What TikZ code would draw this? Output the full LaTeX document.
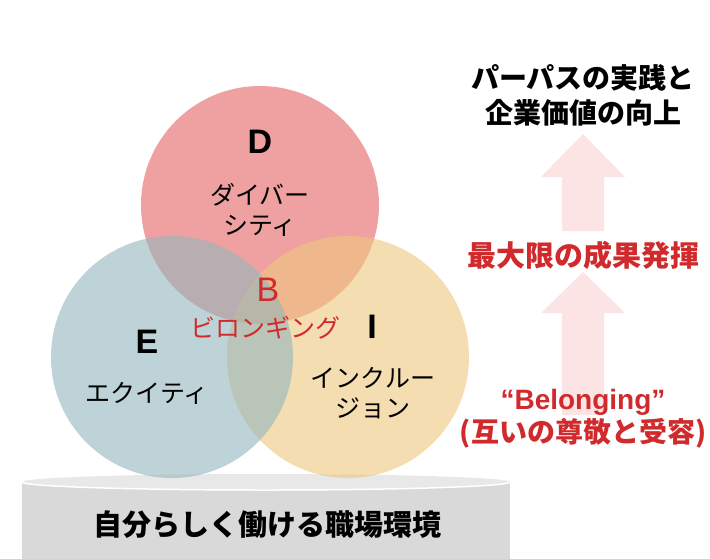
\documentclass[tikz,border=0pt]{standalone}
\usepackage{fontspec}
\setmainfont{Liberation Sans}
\newfontfamily\jp{Noto Sans CJK JP}
\definecolor{dcol}{HTML}{E46262}
\definecolor{ecol}{HTML}{93B6BC}
\definecolor{icol}{HTML}{EEC67F}
\definecolor{txtred}{HTML}{D12A2C}
\definecolor{arrpink}{HTML}{FCE3E4}
\definecolor{platbody}{HTML}{D9D9D9}
\definecolor{plattop}{HTML}{E8E8E8}
\tikzset{
  circfill/.style={fill=#1, fill opacity=0.6},
  letterlbl/.style={font=\fontsize{34}{34}\selectfont\bfseries, inner sep=0pt},
  katalbl/.style={font=\jp\fontsize{25}{30}\selectfont, align=center, inner sep=0pt},
  titlelbl/.style={font=\jp\bfseries\fontsize{28}{35}\selectfont, align=center, inner sep=0pt},
  upshape/.style={fill=arrpink}
}
\begin{document}
\begin{tikzpicture}[x=1pt,y=-1pt]
\useasboundingbox (0,0) rectangle (710,558);
% platform
\fill[platbody] (22,482) rectangle (510,575);
\fill[plattop] (266,482) ellipse [x radius=244, y radius=8];
\draw[white, line width=1.5pt] (22,482) arc[start angle=180, end angle=0, x radius=244, y radius=8];
\node[font=\jp\bfseries\fontsize{29}{29}\selectfont, inner sep=0pt] (base) at (267,525) {自分らしく働ける職場環境};
% circles
\fill[circfill=dcol] (260,205) circle[radius=119];
\fill[circfill=icol] (348,357) circle[radius=121];
\fill[circfill=ecol] (172,357) circle[radius=121];
% circle labels
\node[letterlbl] (d) at (260,142) {D};
\node[katalbl] (dtxt) at (260,210) {ダイバー\\シティ};
\node[letterlbl, font=\fontsize{34}{34}\selectfont, text=txtred] (b) at (268,290) {B};
\node[katalbl, text=txtred] (btxt) at (265,328) {ビロンギング};
\node[letterlbl] (e) at (147,342) {E};
\node[katalbl] (etxt) at (147,393) {エクイティ};
\node[letterlbl] (i) at (372,327) {I};
\node[katalbl] (itxt) at (373,393) {インクルー\\ジョン};
% arrows
\fill[upshape] (583,134) -- (625,177) -- (604,177) -- (604,231) -- (562,231) -- (562,177) -- (541,177) -- cycle;
\fill[upshape] (583,272) -- (625,313) -- (604,313) -- (604,415) -- (562,415) -- (562,313) -- (541,313) -- cycle;
% right texts
\node[titlelbl] (goal) at (583,95) {パーパスの実践と\\企業価値の向上};
\node[titlelbl, text=txtred, font=\jp\bfseries\fontsize{29}{29}\selectfont] (perf) at (583,255) {最大限の成果発揮};
\node[titlelbl, text=txtred, font=\bfseries\fontsize{28}{31}\selectfont] (bel) at (583,402) {“Belonging”};
\node[titlelbl, text=txtred] (resp) at (583,433) {(互いの尊敬と受容)};
\end{tikzpicture}
\end{document}
